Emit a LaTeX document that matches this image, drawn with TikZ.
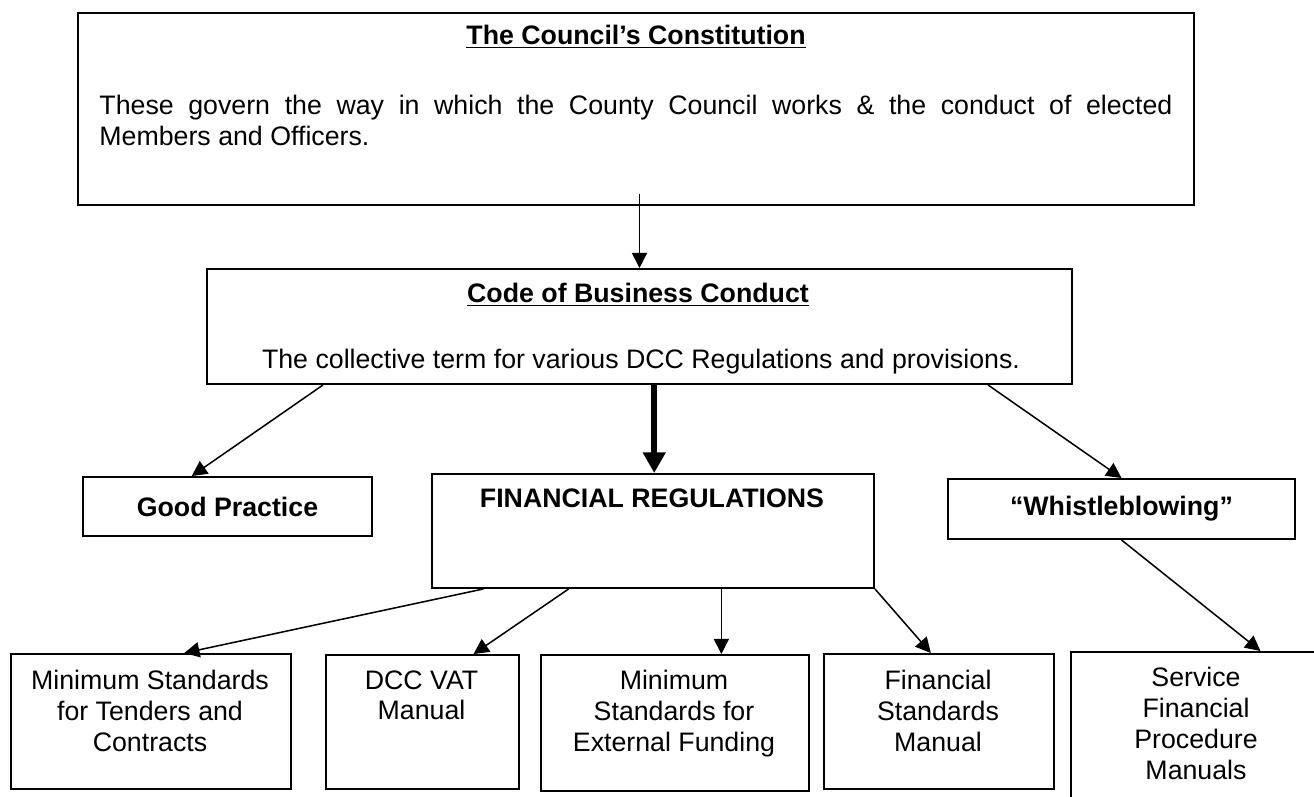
\documentclass[tikz,border=0pt]{standalone}
\usepackage{fontspec}
\setmainfont{Liberation Sans}
\usetikzlibrary{arrows.meta,calc,positioning}
\newcommand{\pxu}{0.46pt}

\begin{document}
\begin{tikzpicture}[
    x=0.46pt,
    y=-0.46pt,
    every node/.style={font=\fontsize{12.3}{14.2}\selectfont},
    panel/.style={draw=black, line width=0.9pt, inner sep=0pt},
    heading/.style={font=\fontsize{12.3}{14.2}\selectfont\bfseries},
    lines/.style={anchor=north, align=center, inner sep=0pt},
    link/.style={-{Triangle[length=7pt,width=7pt]}, line width=0.7pt},
    mainlink/.style={-{Triangle[length=9.5pt,width=10pt]}, line width=3pt}
]

% Page:
% white sheet with the size of the reference, the last box runs off its edge.
\path[use as bounding box, fill=white] (0,0) rectangle (1314,796);
\clip (0,0) rectangle (1314,796);

% Constitution:
% wide box at the top, title centred, body set justified.
\node[panel, anchor=north west, minimum width=1116*\pxu, minimum height=192*\pxu] (const) at (77,12) {};
\node[heading] (constTitle) at (636,37) {\underline{The Council’s Constitution}};
\node[anchor=north west, inner sep=0pt, text width=1073*\pxu, align=justify] (constText) at (99,95)
    {These govern the way in which the County Council works \& the conduct of elected\linebreak
     Members and Officers.};

% Code of Business Conduct:
\node[panel, anchor=north west, minimum width=865*\pxu, minimum height=115*\pxu] (code) at (206,268) {};
\node[heading] (codeTitle) at (638,295) {\underline{Code of Business Conduct}};
\node (codeText) at (641,362) {The collective term for various DCC Regulations and provisions.};

% Second row:
\node[panel, heading, minimum width=289*\pxu, minimum height=59*\pxu] (good) at (227.5,506.5) {Good Practice};
\node[panel, anchor=north west, minimum width=442*\pxu, minimum height=114*\pxu] (fin) at (431,473) {};
\node[heading] (finTitle) at (652,498) {FINANCIAL REGULATIONS};
\node[panel, heading, minimum width=347*\pxu, minimum height=60*\pxu] (whistle) at (1121.5,509) {“Whistleblowing”};

% Manuals:
% bottom row, text set from the top of each box.
\node[panel, anchor=north west, minimum width=280*\pxu, minimum height=135*\pxu] (tender) at (10,653) {};
\node[lines] (tenderText) at (150,670) {Minimum Standards\\for Tenders and\\Contracts};

\node[panel, anchor=north west, minimum width=193*\pxu, minimum height=134*\pxu] (vat) at (325,654) {};
\node[lines] (vatText) at (421.5,670) {DCC VAT\\Manual};

\node[panel, anchor=north west, minimum width=268*\pxu, minimum height=136*\pxu] (funding) at (540,654) {};
\node[lines] (fundingText) at (674,670) {Minimum\\Standards for\\External Funding};

\node[panel, anchor=north west, minimum width=230*\pxu, minimum height=135*\pxu] (standards) at (823,653) {};
\node[lines] (standardsText) at (938,670) {Financial\\Standards\\Manual};

\node[panel, anchor=north west, minimum width=252*\pxu, minimum height=170*\pxu] (service) at (1070,651) {};
\node[lines] (serviceText) at (1196,667) {Service\\Financial\\Procedure\\Manuals};

% Connectors
\draw[link, shorten <=-5.5pt] (const.south -| code.north) -- (code.north);
\draw[link] ($(code.south west)!.135!(code.south east)$) -- ($(good.north west)!.377!(good.north east)$);
\draw[mainlink] ($(code.south west)!.517!(code.south east)$) coordinate (c2) -- (c2 |- fin.north);
\draw[link] ($(code.south west)!.902!(code.south east)$) -- (whistle.north);

\draw[link] ($(fin.south west)!.118!(fin.south east)$) -- ($(tender.north west)!.618!(tender.north east)$);
\draw[link] ($(fin.south west)!.31!(fin.south east)$) -- ($(vat.north west)!.762!(vat.north east)$);
\draw[link] ($(fin.south west)!.654!(fin.south east)$) coordinate (f3) -- (f3 |- funding.north);
\draw[link] (fin.south east) -- ($(standards.north west)!.465!(standards.north east)$);
\draw[link] (whistle.south) -- ($(service.north west)!.75!(service.north east)$);

\end{tikzpicture}
\end{document}
